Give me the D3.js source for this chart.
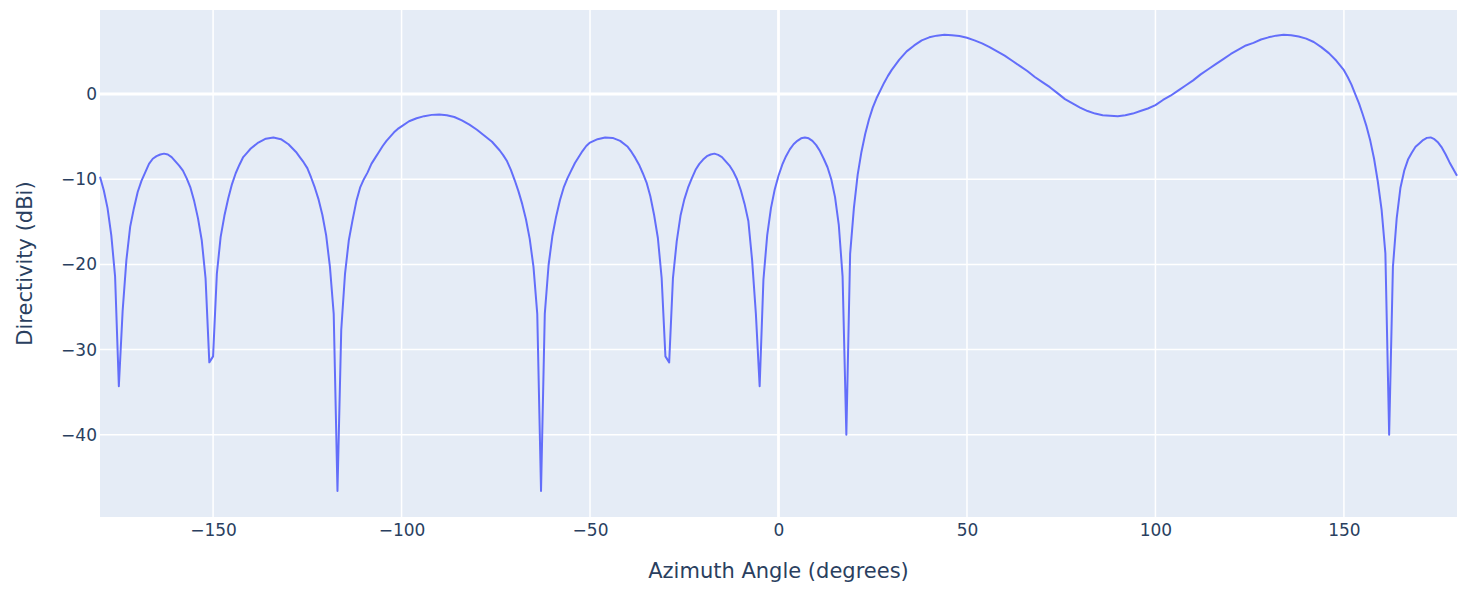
<!DOCTYPE html>
<html>
<head>
<meta charset="utf-8">
<script src="https://cdn.jsdelivr.net/npm/d3@7"></script>
<style>
  body { margin: 0; background: #fff; }
  svg { display: block; font-family: "DejaVu Sans", Verdana, sans-serif; }
</style>
</head>
<body>
<svg id="chart" width="1471" height="604"></svg>
<script>
const azimuth = [
  -180, -179, -178, -177, -176, -175, -174, -173, -172, -171, -170, -169, -168, -167, -166, -165,
  -164, -163, -162, -161, -160, -159, -158, -157, -156, -155, -154, -153, -152, -151, -150, -149,
  -148, -147, -146, -145, -144, -143, -142, -141, -140, -138, -136, -134, -132, -130, -128, -127,
  -126, -125, -124, -123, -122, -121, -120, -119, -118, -117, -116, -115, -114, -113, -112, -111,
  -110, -109, -108, -107, -106, -105, -104, -103, -102, -101, -100, -98, -96, -94, -92, -90,
  -88, -86, -84, -82, -80, -78, -76, -75, -74, -73, -72, -71, -70, -69, -68, -67,
  -66, -65, -64, -63, -62, -61, -60, -59, -58, -57, -56, -55, -54, -53, -52, -51,
  -50, -48, -46, -44, -42, -40, -39, -38, -37, -36, -35, -34, -33, -32, -31, -30,
  -29, -28, -27, -26, -25, -24, -23, -22, -21, -20, -19, -18, -17, -16, -15, -14,
  -13, -12, -11, -10, -9, -8, -7, -6, -5, -4, -3, -2, -1, 0, 1, 2,
  3, 4, 5, 6, 7, 8, 9, 10, 11, 12, 13, 14, 15, 16, 17, 18,
  19, 20, 21, 22, 23, 24, 25, 26, 27, 28, 29, 30, 32, 34, 36, 38,
  40, 42, 44, 46, 48, 50, 52, 54, 56, 58, 60, 62, 64, 66, 68, 70,
  72, 74, 76, 78, 80, 82, 84, 86, 88, 90, 92, 94, 96, 98, 100, 102,
  104, 106, 108, 110, 112, 114, 116, 118, 120, 122, 124, 126, 128, 130, 132, 134,
  136, 138, 140, 142, 144, 146, 148, 150, 151, 152, 153, 154, 155, 156, 157, 158,
  159, 160, 161, 162, 163, 164, 165, 166, 167, 168, 169, 170, 171, 172, 173, 174,
  175, 176, 177, 178, 179, 180
]
const directivity = [
  -9.7, -11.3, -13.4, -16.6, -21.4, -34.3, -25.5, -19.5, -15.6, -13.4, -11.5, -10.2, -9.2, -8.2, -7.6, -7.3,
  -7.1, -7.0, -7.1, -7.4, -7.9, -8.4, -9.0, -9.9, -11.0, -12.6, -14.6, -17.2, -21.6, -31.5, -30.8, -21.1,
  -16.8, -14.3, -12.3, -10.6, -9.3, -8.3, -7.4, -6.9, -6.4, -5.7, -5.25, -5.1, -5.3, -5.9, -6.8, -7.4,
  -8.0, -8.7, -9.8, -11.0, -12.4, -14.2, -16.6, -20.3, -25.8, -46.6, -27.7, -21.1, -17.2, -14.8, -12.6, -11.0,
  -10.0, -9.2, -8.2, -7.5, -6.8, -6.1, -5.5, -5.0, -4.5, -4.1, -3.8, -3.2, -2.85, -2.6, -2.45, -2.4,
  -2.5, -2.7, -3.1, -3.6, -4.2, -4.9, -5.6, -6.1, -6.6, -7.2, -7.9, -8.9, -10.1, -11.4, -12.9, -14.7,
  -17.0, -20.3, -25.8, -46.6, -25.8, -20.1, -16.7, -14.4, -12.5, -11.0, -9.9, -9.0, -8.1, -7.4, -6.7, -6.1,
  -5.7, -5.3, -5.1, -5.15, -5.5, -6.2, -6.8, -7.5, -8.3, -9.3, -10.4, -12.0, -14.2, -16.9, -21.6, -30.8,
  -31.5, -21.6, -17.3, -14.3, -12.4, -11.0, -9.9, -8.9, -8.2, -7.7, -7.3, -7.1, -7.0, -7.15, -7.4, -7.9,
  -8.4, -9.1, -10.0, -11.3, -12.9, -14.9, -19.5, -25.8, -34.3, -21.8, -16.6, -13.4, -11.2, -9.6, -8.3, -7.3,
  -6.5, -5.9, -5.5, -5.2, -5.1, -5.2, -5.5, -6.0, -6.7, -7.6, -8.6, -10.0, -12.1, -15.4, -21.4, -40.0,
  -18.8, -13.4, -9.5, -6.8, -4.7, -3.0, -1.6, -0.5, 0.4, 1.3, 2.1, 2.8, 4.0, 5.0, 5.7, 6.3,
  6.65, 6.85, 6.95, 6.9, 6.8, 6.6, 6.3, 5.95, 5.5, 5.0, 4.5, 3.9, 3.3, 2.7, 2.0, 1.4,
  0.8, 0.1, -0.6, -1.1, -1.6, -2.0, -2.3, -2.5, -2.55, -2.6, -2.5, -2.3, -2.0, -1.7, -1.3, -0.7,
  -0.2, 0.4, 1.0, 1.6, 2.3, 2.9, 3.5, 4.1, 4.7, 5.2, 5.7, 6.0, 6.4, 6.65, 6.85, 6.95,
  6.9, 6.75, 6.5, 6.1, 5.5, 4.8, 3.9, 2.8, 2.0, 1.1, 0.0, -1.1, -2.4, -3.8, -5.5, -7.6,
  -10.3, -13.6, -18.7, -40.0, -20.3, -14.6, -11.0, -9.0, -7.7, -6.9, -6.2, -5.8, -5.4, -5.15, -5.1, -5.3,
  -5.7, -6.3, -7.1, -8.0, -8.8, -9.6
]
const xTicks = [-150, -100, -50, 0, 50, 100, 150]
const yTicks = [-40, -30, -20, -10, 0]

const margin = {top: 10, right: 14, bottom: 87, left: 100}
const width = 1471, height = 604
const svg = d3.select('#chart')

const x = d3.scaleLinear().domain([-180, 180]).range([margin.left, width - margin.right])
const y = d3.scaleLinear().domain([-49.65, 9.86]).range([height - margin.bottom, margin.top])

svg.append('rect')
    .attr('x', margin.left)
    .attr('y', margin.top)
    .attr('width', width - margin.left - margin.right)
    .attr('height', height - margin.top - margin.bottom)
    .attr('fill', '#e5ecf6')

// grid, plotly style: white lines, thicker at zero
svg.append('g')
  .selectAll('line')
  .data(xTicks)
  .join('line')
    .attr('x1', d => x(d)).attr('x2', d => x(d))
    .attr('y1', margin.top).attr('y2', height - margin.bottom)
    .attr('stroke', '#fff')
    .attr('stroke-width', d => d === 0 ? 2.8 : 1.5)

svg.append('g')
  .selectAll('line')
  .data(yTicks)
  .join('line')
    .attr('x1', margin.left).attr('x2', width - margin.right)
    .attr('y1', d => y(d)).attr('y2', d => y(d))
    .attr('stroke', '#fff')
    .attr('stroke-width', d => d === 0 ? 2.8 : 1.5)

const xAxis = svg.append('g')
    .attr('transform', `translate(0,${height - margin.bottom})`)
    .call(d3.axisBottom(x).tickValues(xTicks).tickSize(0).tickPadding(7))
xAxis.select('.domain').remove()
xAxis.selectAll('text')
    .attr('font-size', 17)
    .attr('font-family', '"DejaVu Sans", Verdana, sans-serif')
    .attr('fill', '#2a3f5f')

const yAxis = svg.append('g')
    .attr('transform', `translate(${margin.left},0)`)
    .call(d3.axisLeft(y).tickValues(yTicks).tickSize(0).tickPadding(3))
yAxis.select('.domain').remove()
yAxis.selectAll('text')
    .attr('font-size', 17)
    .attr('font-family', '"DejaVu Sans", Verdana, sans-serif')
    .attr('fill', '#2a3f5f')

const line = d3.line()
    .x((d, i) => x(azimuth[i]))
    .y(d => y(d))

svg.append('path')
    .datum(directivity)
    .attr('fill', 'none')
    .attr('stroke', '#636efa')
    .attr('stroke-width', 2)
    .attr('stroke-linejoin', 'round')
    .attr('d', line)

svg.append('text')
    .attr('x', (margin.left + width - margin.right) / 2)
    .attr('y', 578)
    .attr('text-anchor', 'middle')
    .attr('font-size', 21)
    .attr('fill', '#2a3f5f')
    .text('Azimuth Angle (degrees)')

svg.append('text')
    .attr('transform', `translate(32,${(margin.top + height - margin.bottom) / 2}) rotate(-90)`)
    .attr('text-anchor', 'middle')
    .attr('font-size', 21)
    .attr('fill', '#2a3f5f')
    .text('Directivity (dBi)')
</script>
</body>
</html>
